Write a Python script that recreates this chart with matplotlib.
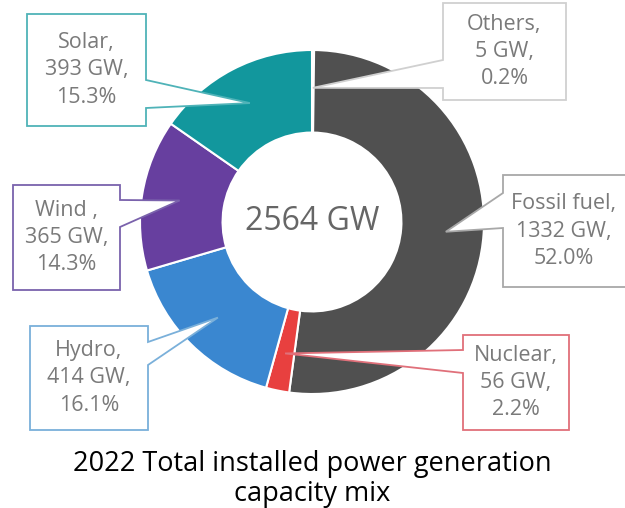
import numpy as np
import matplotlib.pyplot as plt
from matplotlib.patches import Polygon

plt.rcParams['font.family'] = ['Open Sans', 'DejaVu Sans']

labels = ['Others', 'Fossil fuel', 'Nuclear', 'Hydro', 'Wind ', 'Solar']
values = [5, 1332, 56, 414, 365, 393]
shares = ['0.2%', '52.0%', '2.2%', '16.1%', '14.3%', '15.3%']
colors = ['#505050', '#505050', '#e8403f', '#3a87d0', '#673f9f', '#12979d']
edge_colors = ['#d0d0d0', '#a8a8a8', '#e0707a', '#7ab0da', '#7a62ac', '#4fb3b8']
total_text = '2564 GW'
title = '2022 Total installed power generation\ncapacity mix'

W, H = 625, 508
cx, cy, R = 312, 222, 172

# callout boxes in pixel coords (left, top, right, bottom), side of pointer, pointer base y range
boxes = [
    ((443, 3, 566, 100), 'left', (60, 88)),
    ((503, 175, 630, 287), 'left', (193, 228)),
    ((463, 335, 569, 430), 'left', (350, 373)),
    ((30, 326, 148, 430), 'right', (342, 365)),
    ((13, 185, 120, 290), 'right', (200, 227)),
    ((27, 14, 146, 126), 'right', (80, 108)),
]

fig = plt.figure(figsize=(W / 100, H / 100), dpi=100)
ax = fig.add_axes([0, 0, 1, 1])

wedges, _ = ax.pie(values, colors=colors, startangle=90, counterclock=False,
                   center=(cx, H - cy), radius=R, frame=True,
                   wedgeprops=dict(width=R * 0.48, edgecolor='white', linewidth=1.5))
ax.set_xlim(0, W)
ax.set_ylim(0, H)
ax.axis('off')

ax.text(cx, H - cy, total_text, ha='center', va='center', fontsize=23, color='#666666')

for w, lab, v, s, ec, (box, side, (a, b)) in zip(wedges, labels, values, shares, edge_colors, boxes):
    mid = np.deg2rad((w.theta1 + w.theta2) / 2)
    tx = cx + 0.78 * R * np.cos(mid)
    ty = H - cy + 0.78 * R * np.sin(mid)
    x0, y0, x1, y1 = box
    if side == 'right':
        pts = [(x0, y0), (x1, y0), (x1, a), None, (x1, b), (x1, y1), (x0, y1)]
    else:
        pts = [(x0, y0), (x1, y0), (x1, y1), (x0, y1), (x0, b), None, (x0, a)]
    verts = [(tx, ty) if p is None else (p[0], H - p[1]) for p in pts]
    ax.add_patch(Polygon(verts, closed=True, facecolor='white', edgecolor=ec,
                         linewidth=1.3, zorder=5))
    ax.text((x0 + min(x1, W)) / 2, H - (y0 + y1) / 2, f'{lab},\n{v} GW,\n{s}',
            ha='center', va='center', fontsize=15.5, color='#7a7a7a',
            linespacing=1.38, zorder=6)

fig.text(0.5, 1 - 479 / H, title, ha='center', va='center', fontsize=19.5,
         color='black', linespacing=1.12)

fig.savefig('out.png', dpi=100)
